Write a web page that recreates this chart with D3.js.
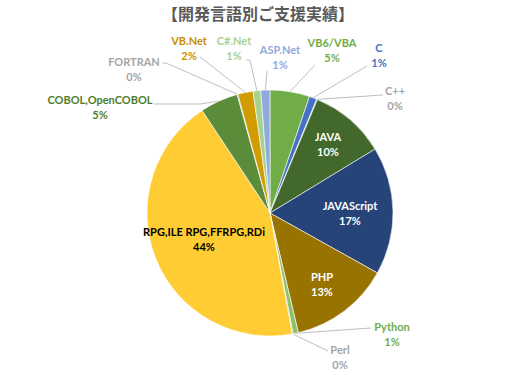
<!DOCTYPE html>
<html>
<head>
<meta charset="utf-8">
<script src="https://cdn.jsdelivr.net/npm/d3@7"></script>
<style>
  body { margin: 0; background: #fff; }
</style>
</head>
<body>
<div id="chart"></div>
<script>
// data (clockwise from 12 o'clock)
const languages = ["VB6/VBA", "C", "C++", "JAVA", "JAVAScript", "PHP", "Python", "Perl",
    "RPG,ILE RPG,FFRPG,RDi", "COBOL,OpenCOBOL", "FORTRAN", "VB.Net", "C#.Net", "ASP.Net"];
const shares = [5.2, 1.0, 0.1, 10.0, 16.8, 13.2, 0.7, 0.1, 43.6, 5.0, 0.1, 2.0, 1.0, 1.2];
const sliceColors = ["#70ad47", "#4472c4", "#a5a5a5", "#43682b", "#264478", "#997300", "#8cc168", "#a5a5a5",
    "#ffcd33", "#5b8c3a", "#a5a5a5", "#d09c00", "#a9d18e", "#8faadc"];
const textColors = ["#70ad47", "#4472c4", "#a5a5a5", "#ffffff", "#ffffff", "#ffffff", "#70ad47", "#a5a5a5",
    "#000000", "#4e7d2a", "#a5a5a5", "#c98f00", "#a9d18e", "#8faadc"];
const title = "【開発言語別ご支援実績】";

// label placement (centre of first text line) and leader line start points
const labelLayout = {
    "VB6/VBA": { x: 332, y: 43, line: [[315, 65]] },
    "C": { x: 379, y: 48, line: [[367, 66]] },
    "C++": { x: 395, y: 91, line: [[383, 95]] },
    "JAVA": { x: 328, y: 137 },
    "JAVAScript": { x: 350, y: 206 },
    "PHP": { x: 322, y: 277 },
    "Python": { x: 392, y: 327, line: [[371, 328]] },
    "Perl": { x: 340, y: 350, line: [[328, 351]] },
    "RPG,ILE RPG,FFRPG,RDi": { x: 204, y: 232 },
    "COBOL,OpenCOBOL": { x: 100, y: 100, line: [[154, 104], [200, 104]] },
    "FORTRAN": { x: 134, y: 62, line: [[162, 63], [166, 63]] },
    "VB.Net": { x: 189, y: 41, line: [[200, 57]] },
    "C#.Net": { x: 234, y: 41, line: [[246, 60], [250, 60]] },
    "ASP.Net": { x: 280, y: 50, line: [[267, 71]] }
};

const W = 525, H = 375;
const cx = 270, cy = 213, radius = 123;

const svg = d3.select("#chart").append("svg")
    .attr("width", W)
    .attr("height", H);

svg.append("text")
    .attr("x", 258)
    .attr("y", 20)
    .attr("text-anchor", "middle")
    .style("font-family", "'Noto Sans CJK JP', sans-serif")
    .style("font-size", "16px")
    .style("font-weight", "bold")
    .style("fill", "#595959")
    .text(title);

const data = languages.map((name, i) => ({ name, value: shares[i], i }));
const total = d3.sum(shares);

const pie = d3.pie().value(d => d.value).sort(null);
const arcs = pie(data);
const arc = d3.arc().innerRadius(0).outerRadius(radius);

const g = svg.append("g").attr("transform", `translate(${cx}, ${cy})`);

// leader lines first, pie drawn on top
const lineGen = d3.line();
arcs.forEach(a => {
    const lay = labelLayout[a.data.name];
    if (!lay.line) return;
    const mid = (a.startAngle + a.endAngle) / 2;
    const end = [cx + radius * Math.sin(mid), cy - radius * Math.cos(mid)];
    svg.insert("path", "g")
        .attr("d", lineGen(lay.line.concat([end])))
        .attr("fill", "none")
        .attr("stroke", "#bfbfbf")
        .attr("stroke-width", 1);
});

g.selectAll("path")
    .data(arcs)
    .enter()
    .append("path")
    .attr("d", arc)
    .attr("fill", d => sliceColors[d.data.i])
    .attr("stroke", "#fff")
    .attr("stroke-width", 0.6);

// labels
const labels = svg.append("g")
    .style("font-family", "Lato, 'Open Sans', sans-serif")
    .style("font-size", "11px")
    .style("font-weight", "bold");

arcs.forEach(a => {
    const lay = labelLayout[a.data.name];
    const t = labels.append("text")
        .attr("text-anchor", "middle")
        .style("fill", textColors[a.data.i]);
    t.append("tspan")
        .attr("x", lay.x)
        .attr("y", lay.y + 4)
        .text(a.data.name);
    t.append("tspan")
        .attr("x", lay.x)
        .attr("y", lay.y + 19)
        .text(Math.round(a.data.value / total * 100) + "%");
});
</script>
</body>
</html>
